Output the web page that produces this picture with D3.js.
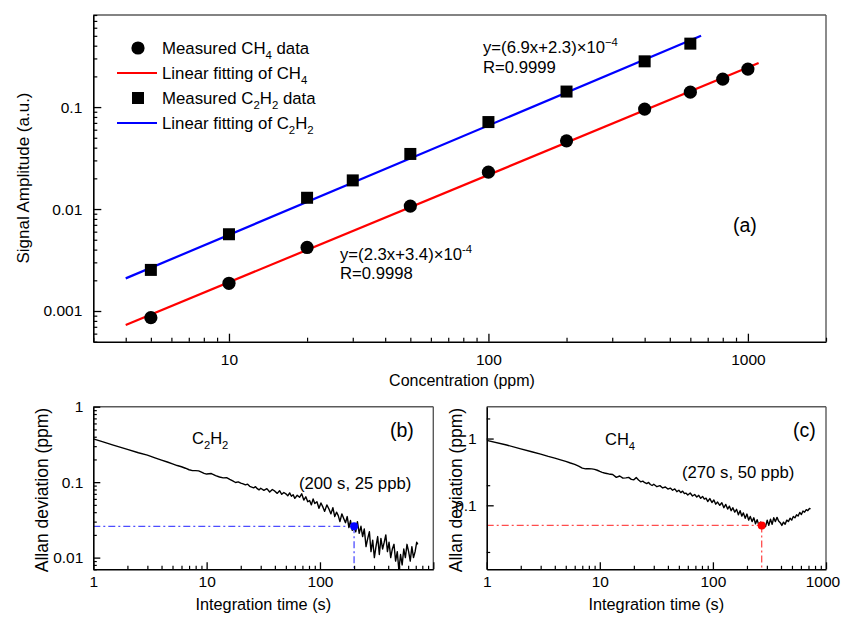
<!DOCTYPE html>
<html>
<head>
<meta charset="utf-8">
<script src="https://cdn.jsdelivr.net/npm/d3@7"></script>
<style>
  html, body { margin: 0; padding: 0; background: #fff; }
  svg { display: block; font-family: Arial, "Liberation Sans", sans-serif; }
</style>
</head>
<body>
<script>
// ---------------- DATA ----------------
// Panel (a): signal amplitude vs concentration
const ch4Conc = [5, 10, 20, 50, 100, 200, 400, 600, 800, 1000];
const ch4Signal = [0.00086, 0.00187, 0.0042, 0.0107, 0.023, 0.0467, 0.0956, 0.140, 0.188, 0.236];
const c2h2Conc = [5, 10, 20, 30, 50, 100, 200, 400, 600];
const c2h2Signal = [0.00253, 0.00566, 0.0129, 0.0191, 0.0347, 0.0713, 0.142, 0.281, 0.419];
const ch4FitConc = [4, 1100];
const ch4FitSignal = [0.00073, 0.27];
const c2h2FitConc = [4, 660];
const c2h2FitSignal = [0.00209, 0.50];

const aXTicks = [10, 100, 1000];
const aXTickLabels = ["10", "100", "1000"];
const aYTicks = [0.001, 0.01, 0.1];
const aYTickLabels = ["0.001", "0.01", "0.1"];

// Panel (b): C2H2 Allan deviation [tau (s), deviation (ppm)]
const allanC2H2 = [
  [1, 0.375], [1.2, 0.345], [1.5, 0.31], [2, 0.272], [2.5, 0.245], [3, 0.228], [3.5, 0.21], [4, 0.196],
  [4.5, 0.185], [5, 0.175], [5.5, 0.166], [6, 0.16], [6.5, 0.153], [7, 0.146], [7.5, 0.142], [8, 0.142],
  [8.5, 0.141], [9, 0.136], [9.5, 0.131], [10, 0.128], [10.5, 0.129], [11, 0.13], [11.5, 0.126], [12, 0.122],
  [13, 0.117], [14, 0.114], [15, 0.115], [16, 0.109], [17, 0.104], [18, 0.099], [19, 0.101], [20, 0.097],
  [21, 0.095], [22, 0.092], [23, 0.094], [24, 0.088], [25, 0.086], [26, 0.084], [27, 0.087], [28, 0.082],
  [29, 0.079], [30, 0.083], [32, 0.078], [34, 0.082], [36, 0.074], [38, 0.08], [40, 0.076], [42, 0.071],
  [44, 0.077], [46, 0.069], [48, 0.073], [50, 0.07], [52, 0.066], [54, 0.072], [56, 0.065], [58, 0.068],
  [60, 0.061], [63, 0.067], [66, 0.063], [69, 0.07], [72, 0.058], [75, 0.064], [78, 0.055], [81, 0.057],
  [84, 0.05], [87, 0.06], [90, 0.052], [94, 0.055], [98, 0.045], [102, 0.053], [106, 0.047], [110, 0.041],
  [115, 0.05], [120, 0.044], [125, 0.038], [130, 0.046], [135, 0.035], [140, 0.04], [145, 0.036], [150, 0.03],
  [156, 0.038], [162, 0.033], [168, 0.029], [174, 0.035], [180, 0.025], [186, 0.031], [193, 0.023], [200, 0.027],
  [207, 0.022], [214, 0.03], [222, 0.021], [230, 0.026], [238, 0.019], [246, 0.024], [255, 0.014], [264, 0.018],
  [273, 0.022], [282, 0.012], [292, 0.017], [302, 0.01], [312, 0.014], [323, 0.019], [334, 0.011], [345, 0.018],
  [357, 0.013], [369, 0.016], [381, 0.02], [394, 0.012], [407, 0.016], [421, 0.01], [435, 0.013], [450, 0.015],
  [465, 0.009], [481, 0.012], [497, 0.0068], [514, 0.011], [531, 0.008], [549, 0.013], [567, 0.01], [586, 0.015],
  [606, 0.012], [626, 0.009], [647, 0.014], [669, 0.01], [691, 0.012], [714, 0.016], [730, 0.015]
];
const bMarkTau = 200, bMarkDev = 0.026;

// Panel (c): CH4 Allan deviation [tau (s), deviation (ppm)]
const allanCH4 = [
  [1, 0.94], [1.5, 0.8], [2, 0.7], [2.5, 0.635], [3, 0.585], [3.5, 0.54], [4, 0.51], [4.5, 0.48],
  [5, 0.455], [5.5, 0.43], [6, 0.41], [6.5, 0.385], [7, 0.36], [7.5, 0.352], [8, 0.352], [8.5, 0.351],
  [9, 0.346], [9.5, 0.335], [10, 0.322], [10.5, 0.312], [11, 0.305], [11.5, 0.3], [12, 0.295], [13, 0.29],
  [14, 0.262], [15, 0.275], [16, 0.255], [17, 0.258], [18, 0.262], [19, 0.245], [20, 0.242], [21, 0.26],
  [22, 0.24], [23, 0.225], [24, 0.23], [25, 0.218], [26, 0.212], [27, 0.22], [28, 0.205], [29, 0.198],
  [30, 0.207], [32, 0.19], [34, 0.197], [36, 0.182], [38, 0.188], [40, 0.175], [42, 0.181], [44, 0.168],
  [46, 0.176], [48, 0.16], [50, 0.168], [52, 0.155], [54, 0.163], [56, 0.15], [58, 0.152], [60, 0.143],
  [63, 0.153], [66, 0.138], [69, 0.145], [72, 0.133], [75, 0.141], [78, 0.127], [81, 0.136], [84, 0.124],
  [87, 0.128], [90, 0.114], [94, 0.126], [98, 0.11], [102, 0.12], [106, 0.104], [110, 0.112], [115, 0.1],
  [120, 0.109], [125, 0.092], [130, 0.103], [135, 0.088], [140, 0.097], [145, 0.083], [150, 0.092], [156, 0.079],
  [162, 0.087], [168, 0.072], [174, 0.083], [180, 0.069], [186, 0.077], [193, 0.064], [200, 0.074], [207, 0.06],
  [214, 0.068], [222, 0.057], [230, 0.065], [238, 0.053], [246, 0.061], [255, 0.05], [264, 0.056], [273, 0.045],
  [282, 0.053], [292, 0.048], [302, 0.06], [312, 0.05], [323, 0.062], [334, 0.052], [345, 0.065], [357, 0.057],
  [369, 0.066], [381, 0.058], [394, 0.055], [407, 0.05], [421, 0.056], [435, 0.052], [450, 0.06], [465, 0.057],
  [481, 0.064], [497, 0.06], [514, 0.068], [531, 0.065], [549, 0.072], [567, 0.069], [586, 0.078], [606, 0.073],
  [626, 0.082], [647, 0.079], [669, 0.086], [691, 0.083], [714, 0.09], [730, 0.088]
];
const cMarkTau = 270, cMarkDev = 0.05;

const bcXTicks = [1, 10, 100, 1000];
const bcXTickLabels = ["1", "10", "100", "1000"];
const bXTickLabels = ["1", "10", "100", ""];
const bYTicks = [0.01, 0.1, 1];
const bYTickLabels = ["0.01", "0.1", "1"];
const cYTicks = [0.1, 1];
const cYTickLabels = ["0.1", "1"];

// ---------------- DRAW ----------------
const W = 841, H = 617;
const FONT = 'Arial, "Liberation Sans", sans-serif';
const svg = d3.select("body").append("svg").attr("width", W).attr("height", H)
  .style("font-family", FONT);

function richText(g, x, y, parts, size, opts = {}) {
  const t = g.append("text").attr("x", x).attr("y", y)
    .attr("font-size", size).attr("fill", "#000")
    .attr("text-anchor", opts.anchor || "start");
  let shift = 0;
  parts.forEach(([s, mode]) => {
    const ts = t.append("tspan").text(s);
    let target = 0, fs = size;
    if (mode === "sub") { target = size * 0.3; fs = size * 0.68; }
    if (mode === "sup") { target = -size * 0.42; fs = size * 0.68; }
    ts.attr("dy", target - shift).attr("font-size", fs);
    shift = target;
  });
  return t;
}

function drawAxes(g, x, y, cfg) {
  const [x0, x1] = x.range();
  const [y0, y1] = y.range();
  g.append("line").attr("x1", x0).attr("x2", x1).attr("y1", y1).attr("y2", y1)
    .attr("stroke", "#5a5a5a").attr("stroke-width", 1.4);
  g.append("line").attr("x1", x1).attr("x2", x1).attr("y1", y1).attr("y2", y0)
    .attr("stroke", "#5a5a5a").attr("stroke-width", 1.4);

  const near = (a, b) => Math.abs(a - b) / b < 1e-6;
  const xAll = x.ticks().filter(v => v >= x.domain()[0] * 0.999 && v <= x.domain()[1] * 1.001);
  const xMinor = xAll.filter(v => !cfg.xMajor.some(m => near(v, m)));
  const yAll = y.ticks().filter(v => v >= y.domain()[0] * 0.999 && v <= y.domain()[1] * 1.001);
  let yMinor = yAll.filter(v => !cfg.yMajor.some(m => near(v, m)));
  if (cfg.yMinorFilter) yMinor = yMinor.filter(cfg.yMinorFilter);

  g.append("g").attr("transform", `translate(0,${y0})`)
    .call(d3.axisBottom(x).tickValues(xMinor).tickSize(-cfg.minorLen).tickFormat(""))
    .call(s => { s.select(".domain").remove(); s.selectAll("line").attr("stroke", "#000").attr("stroke-width", 1.2); });
  const xa = g.append("g").attr("transform", `translate(0,${y0})`)
    .call(d3.axisBottom(x).tickValues(cfg.xMajor).tickSizeInner(-cfg.majorLen).tickSizeOuter(0)
      .tickFormat((d, i) => cfg.xLabels[i]));
  xa.select(".domain").attr("stroke", "#000").attr("stroke-width", 1.6);
  xa.selectAll("line").attr("stroke", "#000").attr("stroke-width", 1.3);
  xa.selectAll("text").attr("dy", null).attr("y", cfg.xLabelOff)
    .attr("font-size", cfg.tickFont).attr("font-family", FONT).attr("fill", "#000");
  if (cfg.xLabelRightLimit != null) {
    // keep the last label inside the canvas
    xa.selectAll("text").each(function () {
      const bb = this.getBBox();
      const tx = x(d3.select(this.parentNode).datum());
      const overflow = tx + bb.x + bb.width - cfg.xLabelRightLimit;
      if (overflow > 0) d3.select(this).attr("x", -overflow);
    });
  }

  g.append("g").attr("transform", `translate(${x0},0)`)
    .call(d3.axisLeft(y).tickValues(yMinor).tickSize(-cfg.minorLen).tickFormat(""))
    .call(s => { s.select(".domain").remove(); s.selectAll("line").attr("stroke", "#000").attr("stroke-width", 1.2); });
  const ya = g.append("g").attr("transform", `translate(${x0},0)`)
    .call(d3.axisLeft(y).tickValues(cfg.yMajor).tickSizeInner(-cfg.majorLen).tickSizeOuter(0)
      .tickPadding(cfg.yPad).tickFormat((d, i) => cfg.yLabels[i]));
  ya.select(".domain").attr("stroke", "#000").attr("stroke-width", 1.6);
  ya.selectAll("line").attr("stroke", "#000").attr("stroke-width", 1.3);
  ya.selectAll("text").attr("font-size", cfg.tickFont).attr("font-family", FONT).attr("fill", "#000");
}

// ======== Panel (a) ========
const gA = svg.append("g");
const xA = d3.scaleLog().domain([3, 2000]).range([93.3, 826]);
const yA = d3.scaleLog().domain([0.0005, 0.8]).range([341.7, 15]);

const lineA = d3.line().x(d => xA(d[0])).y(d => yA(d[1]));
gA.append("path").datum(d3.zip(ch4FitConc, ch4FitSignal)).attr("d", lineA)
  .attr("fill", "none").attr("stroke", "#ff0000").attr("stroke-width", 2.2);
gA.append("path").datum(d3.zip(c2h2FitConc, c2h2FitSignal)).attr("d", lineA)
  .attr("fill", "none").attr("stroke", "#0000ff").attr("stroke-width", 2.2);

gA.selectAll("circle.ch4").data(d3.zip(ch4Conc, ch4Signal)).join("circle")
  .attr("class", "ch4").attr("cx", d => xA(d[0])).attr("cy", d => yA(d[1])).attr("r", 6.6).attr("fill", "#000");
gA.selectAll("rect.c2h2").data(d3.zip(c2h2Conc, c2h2Signal)).join("rect")
  .attr("class", "c2h2").attr("x", d => xA(d[0]) - 6).attr("y", d => yA(d[1]) - 6)
  .attr("width", 12).attr("height", 12).attr("fill", "#000");

drawAxes(gA, xA, yA, {
  xMajor: aXTicks, xLabels: aXTickLabels, yMajor: aYTicks, yLabels: aYTickLabels,
  majorLen: 8, minorLen: 4, xLabelOff: 23, yPad: 11, tickFont: 15.5
});

gA.append("text").attr("x", 462).attr("y", 386).attr("text-anchor", "middle")
  .attr("font-size", 16).text("Concentration (ppm)");
gA.append("text").attr("transform", "translate(29,178) rotate(-90)").attr("text-anchor", "middle")
  .attr("font-size", 17).text("Signal Amplitude (a.u.)");

// legend
const leg = gA.append("g");
leg.append("circle").attr("cx", 138).attr("cy", 48).attr("r", 6.6).attr("fill", "#000");
leg.append("line").attr("x1", 117).attr("x2", 157).attr("y1", 73).attr("y2", 73).attr("stroke", "#ff0000").attr("stroke-width", 2.2);
leg.append("rect").attr("x", 132).attr("y", 92).attr("width", 12).attr("height", 12).attr("fill", "#000");
leg.append("line").attr("x1", 117).attr("x2", 157).attr("y1", 123).attr("y2", 123).attr("stroke", "#0000ff").attr("stroke-width", 2.2);
richText(leg, 162, 54, [["Measured CH"], ["4", "sub"], [" data"]], 16.8);
richText(leg, 162, 79, [["Linear fitting of CH"], ["4", "sub"]], 16.8);
richText(leg, 162, 104, [["Measured C"], ["2", "sub"], ["H"], ["2", "sub"], [" data"]], 16.8);
richText(leg, 162, 129, [["Linear fitting of C"], ["2", "sub"], ["H"], ["2", "sub"]], 16.8);

// annotations
richText(gA, 483, 53, [["y=(6.9x+2.3)×10"], ["−4", "sup"]], 16.7);
richText(gA, 483, 73, [["R=0.9999"]], 16.7);
richText(gA, 340, 260, [["y=(2.3x+3.4)×10"], ["-4", "sup"]], 16.7);
richText(gA, 340, 279, [["R=0.9998"]], 16.7);
gA.append("text").attr("x", 733).attr("y", 232).attr("font-size", 19.5).text("(a)");

// ======== Panels (b) & (c) ========
function allanPanel(id, xr, yDomain, pts, markTau, markDev, markColor, dashColor, cfg) {
  const g = svg.append("g");
  const x = d3.scaleLog().domain([1, 1000]).range(xr);
  const y = d3.scaleLog().domain(yDomain).range([569.3, 406.7]);
  g.append("clipPath").attr("id", id).append("rect")
    .attr("x", xr[0]).attr("y", 406.7).attr("width", xr[1] - xr[0]).attr("height", 569.3 - 406.7);
  const inner = g.append("g").attr("clip-path", `url(#${id})`);
  inner.append("line").attr("x1", x(1)).attr("x2", x(markTau)).attr("y1", y(markDev)).attr("y2", y(markDev))
    .attr("stroke", dashColor).attr("stroke-width", 1.3).attr("stroke-dasharray", "7,3,2,3");
  inner.append("line").attr("x1", x(markTau)).attr("x2", x(markTau)).attr("y1", y(markDev)).attr("y2", y(yDomain[0]))
    .attr("stroke", dashColor).attr("stroke-width", 1.3).attr("stroke-dasharray", "7,3,2,3");
  inner.append("path").datum(pts)
    .attr("d", d3.line().x(d => x(d[0])).y(d => y(d[1])))
    .attr("fill", "none").attr("stroke", "#000").attr("stroke-width", 1.4).attr("stroke-linejoin", "round");
  inner.append("circle").attr("cx", x(markTau)).attr("cy", y(markDev)).attr("r", 4).attr("fill", markColor);
  drawAxes(g, x, y, Object.assign({ majorLen: 7, minorLen: 3.5, xLabelOff: 18, yPad: 10, tickFont: 15.5 }, cfg));
  return { g, x, y };
}

allanPanel("clipB", [93.3, 433.3], [0.007, 1], allanC2H2, bMarkTau, bMarkDev, "#0000ff", "#4d4dff", {
  xMajor: bcXTicks, xLabels: bXTickLabels, yMajor: bYTicks, yLabels: bYTickLabels
});
allanPanel("clipC", [486.7, 826], [0.011, 3], allanCH4, cMarkTau, cMarkDev, "#ff0000", "#ff4d4d", {
  xMajor: bcXTicks, xLabels: bcXTickLabels, yMajor: cYTicks, yLabels: cYTickLabels,
  xLabelRightLimit: 840,
  yMinorFilter: v => Math.abs(v / Math.pow(10, Math.floor(Math.log10(v) + 1e-9)) - 2) < 1e-6
});

// texts for (b)
svg.append("text").attr("x", 263.3).attr("y", 610).attr("text-anchor", "middle").attr("font-size", 16.3).text("Integration time (s)");
svg.append("text").attr("transform", "translate(48,490) rotate(-90)").attr("text-anchor", "middle").attr("font-size", 17.5).text("Allan deviation (ppm)");
richText(svg, 192, 444, [["C"], ["2", "sub"], ["H"], ["2", "sub"]], 16.5);
svg.append("text").attr("x", 390).attr("y", 437).attr("font-size", 19.5).text("(b)");
svg.append("text").attr("x", 299).attr("y", 489).attr("font-size", 16.7).text("(200 s, 25 ppb)");

// texts for (c)
svg.append("text").attr("x", 656.3).attr("y", 610).attr("text-anchor", "middle").attr("font-size", 16.3).text("Integration time (s)");
svg.append("text").attr("transform", "translate(462,490) rotate(-90)").attr("text-anchor", "middle").attr("font-size", 17.5).text("Allan deviation (ppm)");
richText(svg, 605, 445, [["CH"], ["4", "sub"]], 16.5);
svg.append("text").attr("x", 793).attr("y", 437).attr("font-size", 19.5).text("(c)");
svg.append("text").attr("x", 682).attr("y", 478).attr("font-size", 16.7).text("(270 s, 50 ppb)");
</script>
</body>
</html>
